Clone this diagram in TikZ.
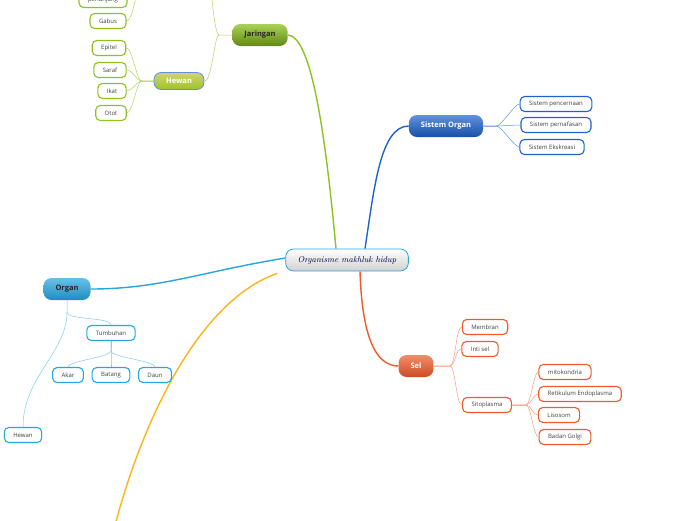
\documentclass[tikz,border=0pt]{standalone}
\usepackage{fontspec}
\setsansfont{Open Sans}
\usetikzlibrary{positioning,backgrounds}
\definecolor{jarcolor}{HTML}{8DC21F}
\definecolor{socolor}{HTML}{1E62D0}
\definecolor{selcolor}{HTML}{EE5A2A}
\definecolor{orgcolor}{HTML}{25A6E0}
\definecolor{othercolor}{HTML}{FBB41A}

\begin{document}
\begin{tikzpicture}[x=1pt, y=-1pt,
    central/.style={draw=orgcolor, line width=0.8pt, rounded corners=8pt,
                    top color=white, bottom color=black!18,
                    minimum height=22pt, inner xsep=12pt,
                    font=\rmfamily\itshape\fontsize{8.5}{10}\selectfont, text=blue!25!black},
    topic/.style={rounded corners=8pt, minimum height=22pt, inner xsep=12pt,
                  font=\sffamily\bfseries\fontsize{7.5}{9}\selectfont},
    leaf/.style={draw, line width=1.1pt, rounded corners=4.5pt, fill=white,
                 minimum height=15pt, inner xsep=9pt, inner ysep=0pt,
                 font=\sffamily\fontsize{6}{7}\selectfont, text=black!75},
    branch/.style={line width=1.4pt},
    twig/.style={line width=0.5pt}
]
\clip (0,0) rectangle (696,520);

% centre and main topics
\node[central] (cen) at (347,260) {Organisme makhluk hidup};
\node[topic, top color=jarcolor!75!white, bottom color=jarcolor!70!black, text=black!85] (jar) at (260,35) {Jaringan};
\node[topic, top color=socolor!70!white, bottom color=socolor!80!black, text=white] (so) at (446,126) {Sistem Organ};
\node[topic, top color=selcolor!70!white, bottom color=selcolor!85!black, text=white] (sel) at (416,366) {Sel};
\node[topic, top color=orgcolor!70!white, bottom color=orgcolor!85!black, text=black!85] (org) at (67,289) {Organ};

% Jaringan
\node[draw=socolor!70, line width=0.8pt, rounded corners=7pt, minimum height=17pt, inner xsep=12pt,
      top color=olive!35!white, bottom color=olive!55!white!85!green,
      font=\sffamily\bfseries\fontsize{7.5}{9}\selectfont, text=white] (hew) at (179,81) {Hewan};
\node[leaf, draw=jarcolor] (pen) at (103,0) {penunjang};
\node[leaf, draw=jarcolor] (gab) at (108,21) {Gabus};
\node[leaf, draw=jarcolor] (epi) at (109,48) {Epitel};
\node[leaf, draw=jarcolor] (sar) at (110,70) {Saraf};
\node[leaf, draw=jarcolor] (ika) at (112,91) {Ikat};
\node[leaf, draw=jarcolor] (oto) at (111,113) {Otot};
\coordinate (jartop) at (210,-30);
\coordinate (tumtop) at (140,-40);

% Sistem Organ
\node[leaf, draw=socolor] (pcn) at (556,104) {Sistem pencernaan};
\node[leaf, draw=socolor] (pnf) at (556,125) {Sistem pernafasan};
\node[leaf, draw=socolor] (eks) at (552,147) {Sistem Ekskreasi};

% Sel
\node[leaf, draw=selcolor] (mem) at (485,327) {Membran};
\node[leaf, draw=selcolor] (int) at (480,349) {Inti sel};
\node[leaf, draw=selcolor] (sit) at (487,405) {Sitoplasma};
\node[leaf, draw=selcolor] (mit) at (565,372) {mitokondria};
\node[leaf, draw=selcolor] (ret) at (580,394) {Retikulum Endoplasma};
\node[leaf, draw=selcolor] (lis) at (559,415) {Lisosom};
\node[leaf, draw=selcolor] (bad) at (565,437) {Badan Golgi};

% Organ
\node[leaf, draw=orgcolor] (tum) at (111,333) {Tumbuhan};
\node[leaf, draw=orgcolor] (aka) at (68,375) {Akar};
\node[leaf, draw=orgcolor] (bat) at (111,375) {Batang};
\node[leaf, draw=orgcolor] (dau) at (155,375) {Daun};
\node[leaf, draw=orgcolor] (hwn) at (23,435) {Hewan};
\coordinate (othend) at (110,545);

\begin{scope}[on background layer]
% main branches
\draw[branch, jarcolor] ([xshift=-11pt]cen.north) .. controls (326,140) and (312,36) .. (jar.east);
\draw[branch, socolor] ([xshift=18pt]cen.north) .. controls (374,190) and (380,126) .. (so.west);
\draw[branch, selcolor] ([xshift=13pt]cen.south) .. controls (362,335) and (375,366) .. (sel.west);
\draw[branch, orgcolor] ([yshift=2pt]cen.west) .. controls (200,272) and (160,289) .. (org.east);
\draw[branch, othercolor] ([xshift=-8pt,yshift=-2pt]cen.south west) .. controls (200,300) and (140,420) .. (othend);

% twigs
\draw[twig, jarcolor!70] (jar.west) -- ++(-13,0) coordinate (jj)
    .. controls +(-5,0) and +(0,10) .. (jartop);
\draw[twig, jarcolor!70] (jj) .. controls +(-5,0) and +(8,0) .. (hew.east);
\foreach \c in {epi,sar,ika,oto}
  \draw[twig, jarcolor!70] (hew.west) -- ++(-12,0) .. controls +(-5,0) and +(6,0) .. (\c.east);
\foreach \c in {pen,gab}
  \draw[twig, jarcolor!70] (\c.east) .. controls +(8,0) and +(0,10) .. (tumtop);

\foreach \c in {pcn,pnf,eks}
  \draw[twig, socolor!70] (so.east) -- ++(13,0) .. controls +(5,0) and +(-5,0) .. (\c.west);

\foreach \c in {mem,int,sit}
  \draw[twig, selcolor!60] (sel.east) -- ++(16,0) .. controls +(6,0) and +(-6,0) .. (\c.west);
\foreach \c in {mit,ret,lis,bad}
  \draw[twig, selcolor!60] (sit.east) -- ++(14,0) .. controls +(5,0) and +(-5,0) .. (\c.west);

\draw[twig, orgcolor!60] (org.south) -- ++(0,12) coordinate (oj)
    .. controls +(0,8) and +(0,-8) .. (tum.north);
\draw[twig, orgcolor!60] (oj) .. controls +(0,40) and +(0,-50) .. (hwn.north);
\foreach \c in {aka,bat,dau}
  \draw[twig, orgcolor!60] (tum.south) -- ++(0,10) .. controls +(0,6) and +(0,-6) .. (\c.north);
\end{scope}
\end{tikzpicture}
\end{document}
